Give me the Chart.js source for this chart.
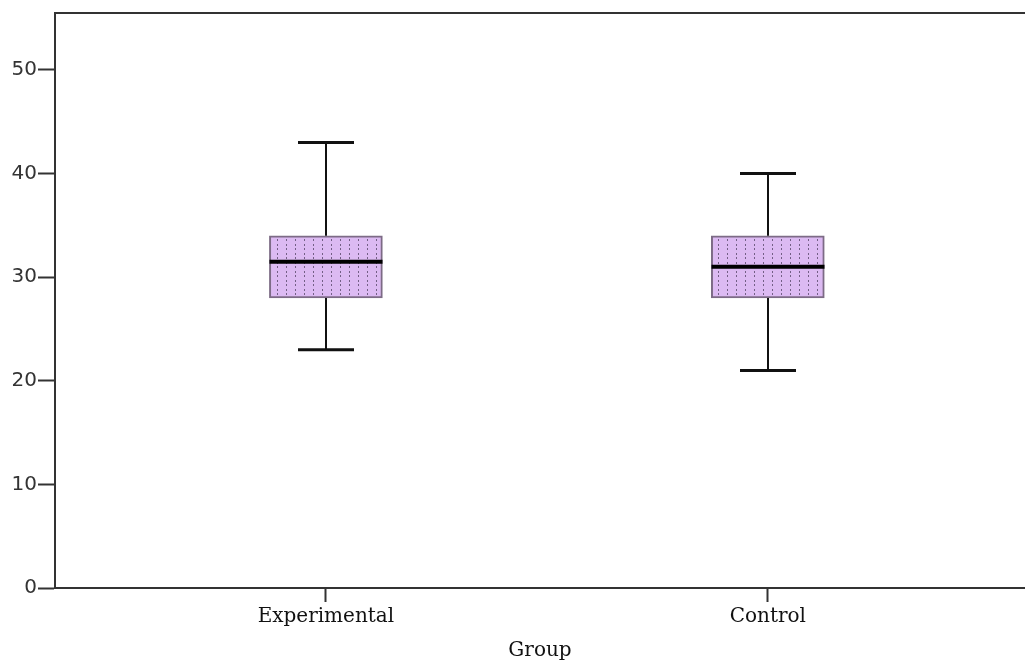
<!DOCTYPE html>
<html>
<head>
<meta charset="utf-8">
<script src="https://cdn.jsdelivr.net/npm/chart.js@4.4.0/dist/chart.umd.min.js"></script>
<style>
  html, body { margin: 0; padding: 0; background: #fff; overflow: hidden; }
  #wrap { width: 1025px; height: 663px; }
</style>
</head>
<body>
<div id="wrap"><canvas id="boxChart" width="1025" height="663"></canvas></div>
<script>
// box plot values
const groups = ['Experimental', 'Control'];
const whiskerLow = [23, 21];
const quartile1 = [28, 28];
const medians = [31.5, 31];
const quartile3 = [34, 34];
const whiskerHigh = [43, 40];
const yTicks = [0, 10, 20, 30, 40, 50];

document.addEventListener('DOMContentLoaded', function() {
    const ctx = document.getElementById('boxChart').getContext('2d');

    // dotted lavender fill like the SPSS pattern
    const tile = document.createElement('canvas');
    tile.width = 9; tile.height = 9;
    const t = tile.getContext('2d');
    t.fillStyle = '#dcbaf2';
    t.fillRect(0, 0, 9, 9);
    t.fillStyle = '#735f85';
    t.fillRect(7, 1, 1, 2);
    t.fillRect(7, 5, 1, 2);
    const boxFill = ctx.createPattern(tile, 'repeat');

    const frameTop = {
        id: 'frameTop',
        afterDraw(chart) {
            const { ctx, chartArea } = chart;
            ctx.save();
            ctx.strokeStyle = '#333';
            ctx.lineWidth = 2;
            ctx.beginPath();
            ctx.moveTo(chartArea.left, chartArea.top);
            ctx.lineTo(chart.width, chartArea.top);
            ctx.stroke();
            ctx.restore();
        }
    };

    const whiskers = {
        id: 'whiskers',
        afterDatasetsDraw(chart) {
            const { ctx } = chart;
            const x = chart.scales.x, y = chart.scales.y;
            const bars = chart.getDatasetMeta(0).data;
            ctx.save();
            groups.forEach(function(g, i) {
                const cx = Math.round(x.getPixelForValue(i + 1));
                const capHalf = 28;
                const hi = y.getPixelForValue(whiskerHigh[i]);
                const lo = y.getPixelForValue(whiskerLow[i]);
                const q1 = y.getPixelForValue(quartile1[i]);
                const q3 = y.getPixelForValue(quartile3[i]);
                const md = y.getPixelForValue(medians[i]);

                ctx.strokeStyle = '#111';
                ctx.lineWidth = 2;
                ctx.beginPath();
                ctx.moveTo(cx, hi); ctx.lineTo(cx, q3);
                ctx.moveTo(cx, q1); ctx.lineTo(cx, lo);
                ctx.stroke();

                ctx.lineWidth = 3;
                ctx.beginPath();
                ctx.moveTo(cx - capHalf, hi); ctx.lineTo(cx + capHalf, hi);
                ctx.moveTo(cx - capHalf, lo); ctx.lineTo(cx + capHalf, lo);
                ctx.stroke();

                const w = bars[i].width / 2;
                ctx.lineWidth = 4;
                ctx.strokeStyle = '#000';
                ctx.beginPath();
                ctx.moveTo(cx - w, md); ctx.lineTo(cx + w, md);
                ctx.stroke();
            });
            ctx.restore();
        }
    };

    new Chart(ctx, {
        type: 'bar',
        data: {
            datasets: [{
                data: groups.map((g, i) => ({ x: i + 1, y: [quartile1[i], quartile3[i]] })),
                backgroundColor: boxFill,
                borderColor: '#7d6b86',
                borderWidth: 2,
                borderSkipped: false,
                barThickness: 113
            }]
        },
        options: {
            responsive: false,
            animation: false,
            layout: { padding: { top: 12, left: 0, right: 0, bottom: 0 } },
            plugins: {
                legend: { display: false },
                tooltip: { enabled: false }
            },
            scales: {
                x: {
                    type: 'linear',
                    min: 0.387,
                    max: 2.582,
                    offset: false,
                    afterBuildTicks: axis => { axis.ticks = groups.map((g, i) => ({ value: i + 1 })); },
                    afterFit: s => { s.height = 75; },
                    ticks: {
                        callback: v => groups[v - 1] || '',
                        font: { family: '"DejaVu Serif", serif', size: 20 },
                        color: '#111',
                        padding: 3,
                        autoSkip: false,
                        maxRotation: 0
                    },
                    grid: { offset: false, drawOnChartArea: false, drawTicks: true, tickLength: 14, tickWidth: 2, tickColor: '#333' },
                    border: { display: true, color: '#333', width: 2 },
                    title: {
                        display: true,
                        text: 'Group',
                        font: { family: '"DejaVu Serif", serif', size: 20 },
                        color: '#111',
                        padding: 0
                    }
                },
                y: {
                    min: 0,
                    max: 55.5,
                    afterBuildTicks: axis => { axis.ticks = yTicks.map(v => ({ value: v })); },
                    afterFit: s => { s.width = 55; },
                    ticks: {
                        font: { family: '"DejaVu Sans", sans-serif', size: 20 },
                        color: '#333',
                        padding: 1
                    },
                    grid: { drawOnChartArea: false, drawTicks: true, tickLength: 17, tickWidth: 2, tickColor: '#333' },
                    border: { display: true, color: '#333', width: 2 }
                }
            }
        },
        plugins: [frameTop, whiskers]
    });
});
</script>
</body>
</html>
